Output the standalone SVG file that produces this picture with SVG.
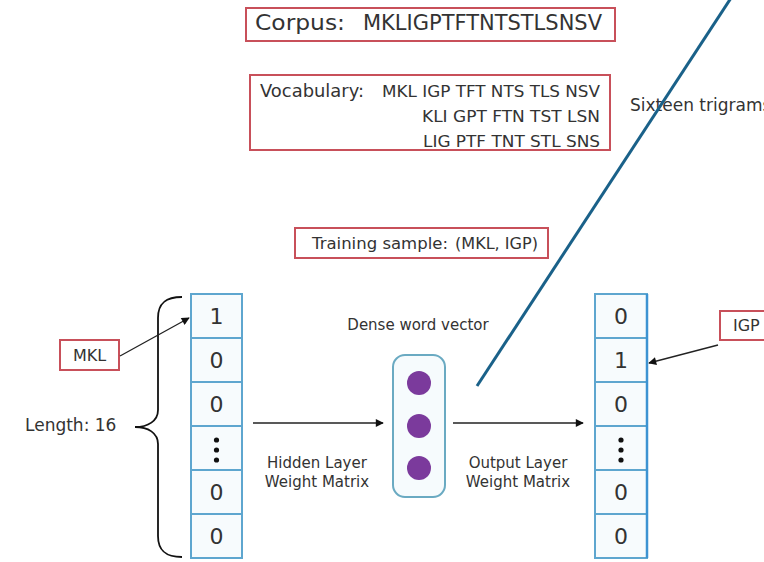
<svg xmlns="http://www.w3.org/2000/svg" width="764" height="562" viewBox="0 0 764 562">
<defs>
<marker id="ah" viewBox="0 0 10 10" refX="9" refY="5" markerWidth="10" markerHeight="8" markerUnits="userSpaceOnUse" orient="auto"><path d="M0,0 L10,5 L0,10 z" fill="#111"/></marker>
<style>
text{font-family:"DejaVu Sans","Liberation Sans",sans-serif;fill:#333}
.rbox{fill:#fff;stroke:#c8505a;stroke-width:2}
.cell{fill:#f7fbfd;stroke:#5ea6cf;stroke-width:2}
.num{font-size:22px;text-anchor:middle}
.lbl{font-size:15px;text-anchor:middle}
.conn{stroke:#222;stroke-width:1.3;fill:none}
.dot{fill:#111}
.neuron{fill:#7b3a9c}
</style>
</defs>
<rect width="764" height="562" fill="#fff"/>

<g id="corpus">
<rect class="rbox" x="246" y="8" width="369" height="33"/>
<text x="255" y="30" font-size="21" textLength="90" lengthAdjust="spacingAndGlyphs">Corpus:</text>
<text x="363" y="30" font-size="21" textLength="239" lengthAdjust="spacingAndGlyphs">MKLIGPTFTNTSTLSNSV</text>
</g>

<g id="vocabulary">
<rect class="rbox" x="250" y="75" width="360" height="75"/>
<text x="260" y="97" font-size="17" textLength="104" lengthAdjust="spacingAndGlyphs">Vocabulary:</text>
<text x="382" y="97" font-size="15.5" textLength="218" lengthAdjust="spacingAndGlyphs">MKL IGP TFT NTS TLS NSV</text>
<text x="422" y="122" font-size="15.5" textLength="178" lengthAdjust="spacingAndGlyphs">KLI GPT FTN TST LSN</text>
<text x="423" y="147" font-size="15.5" textLength="177" lengthAdjust="spacingAndGlyphs">LIG PTF TNT STL SNS</text>
</g>

<g id="sixteen">
<text x="630" y="111" font-size="17">Sixteen trigrams</text>
</g>

<g id="training">
<rect class="rbox" x="295" y="228" width="253" height="30"/>
<text x="312" y="249" font-size="15.5" textLength="136" lengthAdjust="spacingAndGlyphs">Training sample:</text>
<text x="455" y="249" font-size="15.5" textLength="83" lengthAdjust="spacingAndGlyphs">(MKL, IGP)</text>
</g>

<g id="mkl">
<rect class="rbox" x="60" y="340" width="59" height="30"/>
<text x="89.5" y="361" font-size="16" text-anchor="middle">MKL</text>
</g>

<g id="igp">
<rect class="rbox" x="720" y="311" width="60" height="29"/>
<text x="733" y="331" font-size="16">IGP</text>
</g>

<g id="length">
<text x="25" y="431" font-size="17">Length: 16</text>
<path d="M182,297 C166,297 158,303 158,318 L158,410 C158,421 148,427 135,427 C148,427 158,433 158,444 L158,536 C158,551 166,557 182,557" fill="none" stroke="#111" stroke-width="1.8"/>
</g>

<g id="input-vector">
<rect class="cell" x="191" y="294" width="51" height="44"/>
<rect class="cell" x="191" y="338" width="51" height="44"/>
<rect class="cell" x="191" y="382" width="51" height="44"/>
<rect class="cell" x="191" y="426" width="51" height="44"/>
<rect class="cell" x="191" y="470" width="51" height="44"/>
<rect class="cell" x="191" y="514" width="51" height="44"/>
<text class="num" x="216.5" y="324">1</text>
<text class="num" x="216.5" y="368">0</text>
<text class="num" x="216.5" y="412">0</text>
<circle class="dot" cx="216.5" cy="440" r="2.6"/>
<circle class="dot" cx="216.5" cy="450" r="2.6"/>
<circle class="dot" cx="216.5" cy="460" r="2.6"/>
<text class="num" x="216.5" y="500">0</text>
<text class="num" x="216.5" y="544">0</text>
</g>

<g id="dense-vector">
<text class="lbl" x="418" y="330">Dense word vector</text>
<rect x="393" y="355" width="52" height="142" rx="12" ry="12" fill="#f6fbfd" stroke="#6aaac2" stroke-width="2"/>
<circle class="neuron" cx="419" cy="383" r="12"/>
<circle class="neuron" cx="419" cy="426" r="12"/>
<circle class="neuron" cx="419" cy="468" r="12"/>
</g>

<g id="output-vector">
<rect class="cell" x="595" y="294" width="52" height="44"/>
<rect class="cell" x="595" y="338" width="52" height="44"/>
<rect class="cell" x="595" y="382" width="52" height="44"/>
<rect class="cell" x="595" y="426" width="52" height="44"/>
<rect class="cell" x="595" y="470" width="52" height="44"/>
<rect class="cell" x="595" y="514" width="52" height="44"/>
<line x1="647" y1="294" x2="647" y2="558" stroke="#3d93d2" stroke-width="2.5"/>
<text class="num" x="621" y="324">0</text>
<text class="num" x="621" y="368">1</text>
<text class="num" x="621" y="412">0</text>
<circle class="dot" cx="621" cy="440" r="2.6"/>
<circle class="dot" cx="621" cy="450" r="2.6"/>
<circle class="dot" cx="621" cy="460" r="2.6"/>
<text class="num" x="621" y="500">0</text>
<text class="num" x="621" y="544">0</text>
</g>

<g id="hidden-label">
<text class="lbl" x="317" y="468">Hidden Layer</text>
<text class="lbl" x="317" y="487">Weight Matrix</text>
</g>
<g id="output-label">
<text class="lbl" x="518" y="468">Output Layer</text>
<text class="lbl" x="518" y="487">Weight Matrix</text>
</g>

<g id="connectors">
<line class="conn" x1="120" y1="356" x2="189" y2="318" marker-end="url(#ah)"/>
<line class="conn" x1="718" y1="345" x2="649" y2="363" marker-end="url(#ah)"/>
<line class="conn" x1="253" y1="423" x2="383" y2="423" marker-end="url(#ah)"/>
<line class="conn" x1="453" y1="423" x2="583" y2="423" marker-end="url(#ah)"/>
</g>

<g id="pointer">
<line x1="731" y1="-2" x2="477" y2="386" stroke="#1a6189" stroke-width="3"/>
</g>
</svg>
